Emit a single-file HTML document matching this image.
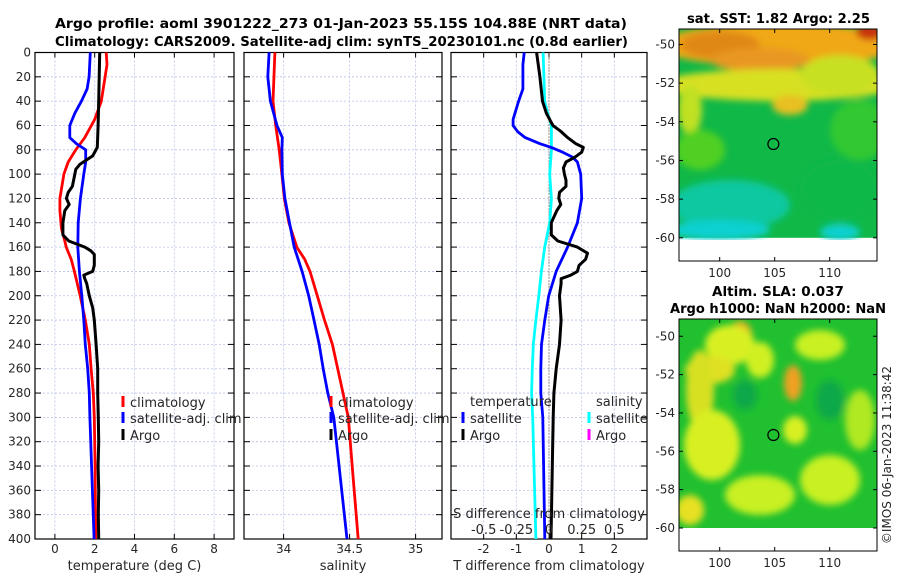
<!DOCTYPE html>
<html><head><meta charset="utf-8"><style>
body{margin:0;background:#fff}
svg{display:block;font-family:"DejaVu Sans","Liberation Sans",sans-serif}
.t{font-weight:bold;font-size:13.5px}
.k{font-size:12px;fill:#262626}
.lg{font-size:13px;fill:#262626}
</style></head><body>
<svg id="s" width="900" height="580" viewBox="0 0 900 580">
<defs>
<filter id="bl" x="-10%" y="-10%" width="120%" height="120%"><feGaussianBlur stdDeviation="3.5"/></filter>
<clipPath id="c1"><rect x="679" y="29" width="198" height="211"/></clipPath>
<clipPath id="c2"><rect x="679" y="319" width="198" height="209"/></clipPath>
</defs>
<text class="t" x="55" y="28" textLength="572" lengthAdjust="spacingAndGlyphs">Argo profile: aoml 3901222_273 01-Jan-2023 55.15S 104.88E (NRT data)</text>
<text class="t" x="55" y="46" textLength="573" lengthAdjust="spacingAndGlyphs">Climatology: CARS2009. Satellite-adj clim: synTS_20230101.nc (0.8d earlier)</text>
<text class="t" x="687" y="23" textLength="183" lengthAdjust="spacingAndGlyphs">sat. SST: 1.82 Argo: 2.25</text>
<text class="t" x="778" y="296" text-anchor="middle">Altim. SLA: 0.037</text>
<text class="t" x="670" y="313" textLength="216" lengthAdjust="spacingAndGlyphs">Argo h1000: NaN h2000: NaN</text>
<text class="k" transform="translate(891,455) rotate(-90)" text-anchor="middle">©IMOS 06-Jan-2023 11:38:42</text>
<g id="g"></g>
</svg>
<script>
// ---------- data ----------
const depthTicks=[0,20,40,60,80,100,120,140,160,180,200,220,240,260,280,300,320,340,360,380,400];
const tempTicks=[0,2,4,6,8];
const salTicks=[34,34.5,35];
const salTickLabels=["34","34.5","35"];
const tdiffTicks=[-2,-1,0,1,2];
const sdiffTicks=[-0.5,-0.25,0,0.25,0.5];
const sdiffTickLabels=["-0.5","-0.25","0","0.25","0.5"];

const argoTDepth=[0,40,60,78,85,92,96,110,115,120,125,130,140,150,155,160,163,166,175,180,183,186,190,200,210,220,240,260,280,300,320,340,360,380,400];
const argoT=[2.25,2.2,2.17,2.13,1.9,1.25,1.05,0.88,0.67,0.58,0.72,0.5,0.4,0.4,0.7,1.5,1.8,1.98,1.98,1.9,1.45,1.5,1.6,1.73,1.9,1.98,2.07,2.15,2.15,2.18,2.2,2.17,2.2,2.18,2.2];
const climTDepth=[0,10,40,55,70,80,90,100,120,130,145,155,160,170,180,200,220,240,260,280,300,340,400];
const climT=[2.58,2.62,2.33,2.0,1.5,1.05,0.67,0.45,0.25,0.25,0.33,0.5,0.57,0.82,0.98,1.27,1.53,1.73,1.82,1.93,1.98,2.02,2.05];
const satTDepth=[0,20,30,40,50,60,70,75,80,90,100,120,140,160,180,200,220,240,260,280,300,400];
const satT=[1.78,1.72,1.62,1.33,1.0,0.75,0.75,1.08,1.55,1.55,1.45,1.28,1.17,1.15,1.23,1.35,1.45,1.53,1.65,1.73,1.76,1.97];

const climSDepth=[0,40,60,80,100,120,140,160,170,180,200,220,240,260,280,300,340,400];
const climS=[33.934,33.92,33.94,33.967,33.987,34.005,34.04,34.1,34.16,34.2,34.255,34.31,34.37,34.41,34.45,34.49,34.52,34.565];
const satSDepth=[0,20,40,60,70,80,100,120,140,160,180,200,220,240,260,280,300,400];
const satS=[33.89,33.88,33.9,33.95,33.99,33.987,33.99,34.01,34.045,34.08,34.14,34.19,34.23,34.27,34.3,34.335,34.38,34.48];

const dArgoTDepth=[0,20,40,50,60,65,70,75,78,82,86,90,95,100,105,110,115,120,125,130,140,150,155,160,165,170,175,180,183,186,190,200,220,240,260,280,300,340,400];
const dArgoT=[-0.38,-0.28,-0.2,-0.08,0.12,0.37,0.57,0.82,1.05,1.0,0.8,0.52,0.44,0.47,0.52,0.52,0.32,0.3,0.36,0.24,0.07,0.07,0.27,0.87,1.18,1.12,0.92,0.87,0.67,0.37,0.37,0.32,0.37,0.32,0.22,0.15,0.13,0.1,0.06];
const dSatTDepth=[0,10,30,40,55,60,65,70,75,78,82,86,90,100,120,140,160,180,200,220,240,260,280,300,400];
const dSatT=[-0.76,-0.8,-0.8,-0.93,-1.1,-1.1,-0.96,-0.73,-0.28,0.07,0.42,0.72,0.87,0.97,1.0,0.87,0.57,0.22,-0.01,-0.13,-0.23,-0.25,-0.25,-0.19,-0.13];
const dSatSDepth=[0,40,50,60,80,100,120,140,160,180,200,220,240,260,280,300,400];
const dSatS=[-0.045,-0.033,-0.01,0.018,0.018,0.005,0.018,0.005,-0.033,-0.058,-0.078,-0.1,-0.12,-0.128,-0.133,-0.125,-0.1];

// ---------- drawing ----------
const NS="http://www.w3.org/2000/svg";
const G=document.getElementById('g');
function el(tag,attrs,parent){const e=document.createElementNS(NS,tag);for(const k in attrs)e.setAttribute(k,attrs[k]);(parent||G).appendChild(e);return e;}
const Y0=52.5,Y1=539;
function yD(d){return Y0+d*(Y1-Y0)/400;}
function lin(d0,d1,r0,r1){return v=>r0+(v-d0)*(r1-r0)/(d1-d0);}

function panel(name,x0,x1,xs,ticks,labels,xlabel,showY){
  const g=el('g',{});
  
  
  ticks.forEach(t=>{const x=xs(t);
    const l=el('line',{x1:x,x2:x,y1:Y0,y2:Y1,stroke:'#b8c0e8','stroke-width':0.8,'stroke-dasharray':'2,2'},g);
    
    el('line',{x1:x,x2:x,y1:Y1,y2:Y1-5,stroke:'#000'},g);el('line',{x1:x,x2:x,y1:Y0,y2:Y0+5,stroke:'#000'},g);});
  depthTicks.forEach(d=>{const y=yD(d);
    const l=el('line',{x1:x0,x2:x1,y1:y,y2:y,stroke:'#b8c0e8','stroke-width':0.8,'stroke-dasharray':'2,2'},g);
    
    el('line',{x1:x0,x2:x0+6,y1:y,y2:y,stroke:'#000'},g);el('line',{x1:x1,x2:x1-6,y1:y,y2:y,stroke:'#000'},g);
    if(showY){const t=el('text',{x:x0-4,y:y+4,'text-anchor':'end',class:'k'},g);t.textContent=d;
      }});
  ticks.forEach((t,i)=>{const tx=el('text',{x:xs(t),y:553,'text-anchor':'middle',class:'k'},g);tx.textContent=labels[i];
    });
  const xl=el('text',{x:(x0+x1)/2,y:570,'text-anchor':'middle',class:'lg'},g);xl.textContent=xlabel;
  
  const fr=el('rect',{x:x0,y:Y0,width:x1-x0,height:Y1-Y0,fill:'none',stroke:'#000','stroke-width':1.2},g);
  
  return g;
}
function series(g,name,xs,depths,vals,color,w){
  const pts=depths.map((d,i)=>xs(vals[i]).toFixed(1)+','+yD(d).toFixed(1)).join(' ');
  const p=el('polyline',{points:pts,fill:'none',stroke:color,'stroke-width':w||2.8,'stroke-linejoin':'round'},g);
  
}
function legend(g,name,x,y,color,label){
  const lg=el('g',{},g);
  
  el('line',{x1:x,x2:x,y1:y-11,y2:y,stroke:color,'stroke-width':3},lg);
  const t=el('text',{x:x+7,y:y,class:'lg'},lg);t.textContent=label;
}

// panel 1
const xT=lin(-1,9,35,234);
const g1=panel('temperature-panel',35,234,xT,tempTicks,tempTicks.map(String),'temperature (deg C)',true);
series(g1,'climatology-temperature-line',xT,climTDepth,climT,'#ff0000');
series(g1,'satellite-temperature-line',xT,satTDepth,satT,'#0000ff');
series(g1,'argo-temperature-line',xT,argoTDepth,argoT,'#000000',3);
legend(g1,'legend-climatology',123,407,'#ff0000','climatology');
legend(g1,'legend-satellite-adj',123,423,'#0000ff','satellite-adj. clim');
legend(g1,'legend-argo',123,440,'#000000','Argo');

// panel 2
const xS=lin(33.7,35.2,244,442);
const g2=panel('salinity-panel',244,442,xS,salTicks,salTickLabels,'salinity',false);
series(g2,'climatology-salinity-line',xS,climSDepth,climS,'#ff0000');
series(g2,'satellite-salinity-line',xS,satSDepth,satS,'#0000ff');
legend(g2,'legend-climatology-sal',331,407,'#ff0000','climatology');
legend(g2,'legend-satellite-adj-sal',331,423,'#0000ff','satellite-adj. clim');
legend(g2,'legend-argo-sal',331,440,'#000000','Argo');

// panel 3
const xD=lin(-3,3,451,647);
const xSD=lin(-0.75,0.75,451,647);
const g3=panel('difference-panel',451,647,xD,tdiffTicks,tdiffTicks.map(String),'T difference from climatology',false);
const zl=el('line',{x1:xD(0),x2:xD(0),y1:Y0,y2:Y1,stroke:'#604020','stroke-width':1,'stroke-dasharray':'1,2'},g3);

series(g3,'satellite-salinity-diff-line',xSD,dSatSDepth,dSatS,'#00ffff');
series(g3,'satellite-temperature-diff-line',xD,dSatTDepth,dSatT,'#0000ff');
series(g3,'argo-temperature-diff-line',xD,dArgoTDepth,dArgoT,'#000000',3);
const h1=el('text',{x:470,y:406,class:'lg'},g3);h1.textContent='temperature';

const h2=el('text',{x:596,y:406,class:'lg'},g3);h2.textContent='salinity';

legend(g3,'legend-t-satellite',463,423,'#0000ff','satellite');
legend(g3,'legend-t-argo',463,440,'#000000','Argo');
legend(g3,'legend-s-satellite',589,423,'#00ffff','satellite');
legend(g3,'legend-s-argo',589,440,'#ff00ff','Argo');
const sl=el('text',{x:549,y:518,'text-anchor':'middle',class:'lg'},g3);sl.textContent='S difference from climatology';

sdiffTicks.forEach((t,i)=>{const tx=el('text',{x:xSD(t),y:534,'text-anchor':'middle',class:'lg'},g3);tx.textContent=sdiffTickLabels[i];
  });

// maps
const lonTicks=[100,105,110];
const latTicks=[-50,-52,-54,-56,-58,-60];
function map(name,top,bottom,latTop,latBot,blobs,base,clip){
  const g=el('g',{});
  
  const xL=lin(96.3,114.3,679,877), yL=lin(latTop,latBot,top,bottom);
  const dataBot=yL(-60);
  const cg=el('g',{'clip-path':'url(#'+clip+')'},g);
  el('rect',{x:679,y:top,width:198,height:dataBot-top,fill:base},cg);
  const bg=el('g',{filter:'url(#bl)'},cg);
  blobs.forEach(b=>el('ellipse',{cx:b[0],cy:b[1],rx:b[2],ry:b[3],fill:b[4]},bg));
  lonTicks.forEach(l=>{const x=xL(l);el('line',{x1:x,x2:x,y1:bottom,y2:bottom-4,stroke:'#000'},g);el('line',{x1:x,x2:x,y1:top,y2:top+4,stroke:'#000'},g);
    const t=el('text',{x:x,y:bottom+16,'text-anchor':'middle',class:'k'},g);t.textContent=l;
    });
  latTicks.forEach(l=>{const y=yL(l);el('line',{x1:679,x2:683,y1:y,y2:y,stroke:'#000'},g);el('line',{x1:877,x2:873,y1:y,y2:y,stroke:'#000'},g);
    const t=el('text',{x:675,y:y+4,'text-anchor':'end',class:'k'},g);t.textContent=l;
    });
  const c=el('circle',{cx:xL(104.88),cy:yL(-55.15),r:5.5,fill:'none',stroke:'#000','stroke-width':1.2},g);
  
  el('rect',{x:679,y:top,width:198,height:bottom-top,fill:'none',stroke:'#000','stroke-width':1},g);
}
map('sst-map',29,261,-49.2,-61.2,[
 [778,45,120,22,'#f0a818'],[720,45,40,14,'#e08818'],[870,32,14,8,'#c83008'],[760,60,50,12,'#e89820'],
 [778,85,120,16,'#d8e020'],[840,75,40,20,'#c8e020'],[790,105,18,10,'#e8c020'],[690,110,12,25,'#c0e020'],
 [700,150,25,20,'#50d020'],[860,130,30,30,'#30c830'],[730,205,60,25,'#10c8a0'],[720,230,50,10,'#10d0d0'],
 [840,232,20,8,'#10d0d0'],[840,190,40,30,'#10b848']
],'#10b848','c1');
map('sla-map',319,551,-49.1,-61.2,[
 [740,335,12,14,'#f0b020'],[730,345,25,20,'#d8f020'],[710,370,25,14,'#e0e020'],[700,390,14,40,'#d8e020'],
 [793,383,9,18,'#f0a020'],[720,450,14,20,'#f0b020'],[712,445,28,35,'#d8f020'],[760,360,14,18,'#d0f020'],
 [820,345,25,15,'#c8f020'],[795,430,12,14,'#d8f020'],[830,480,30,25,'#c8f020'],[760,495,35,20,'#c8f020'],
 [690,510,14,15,'#e8e020'],[860,420,15,30,'#b0e820'],[745,395,12,15,'#10a848'],[830,400,14,20,'#10a848']
],'#20c030','c2');
</script>
</body></html>
